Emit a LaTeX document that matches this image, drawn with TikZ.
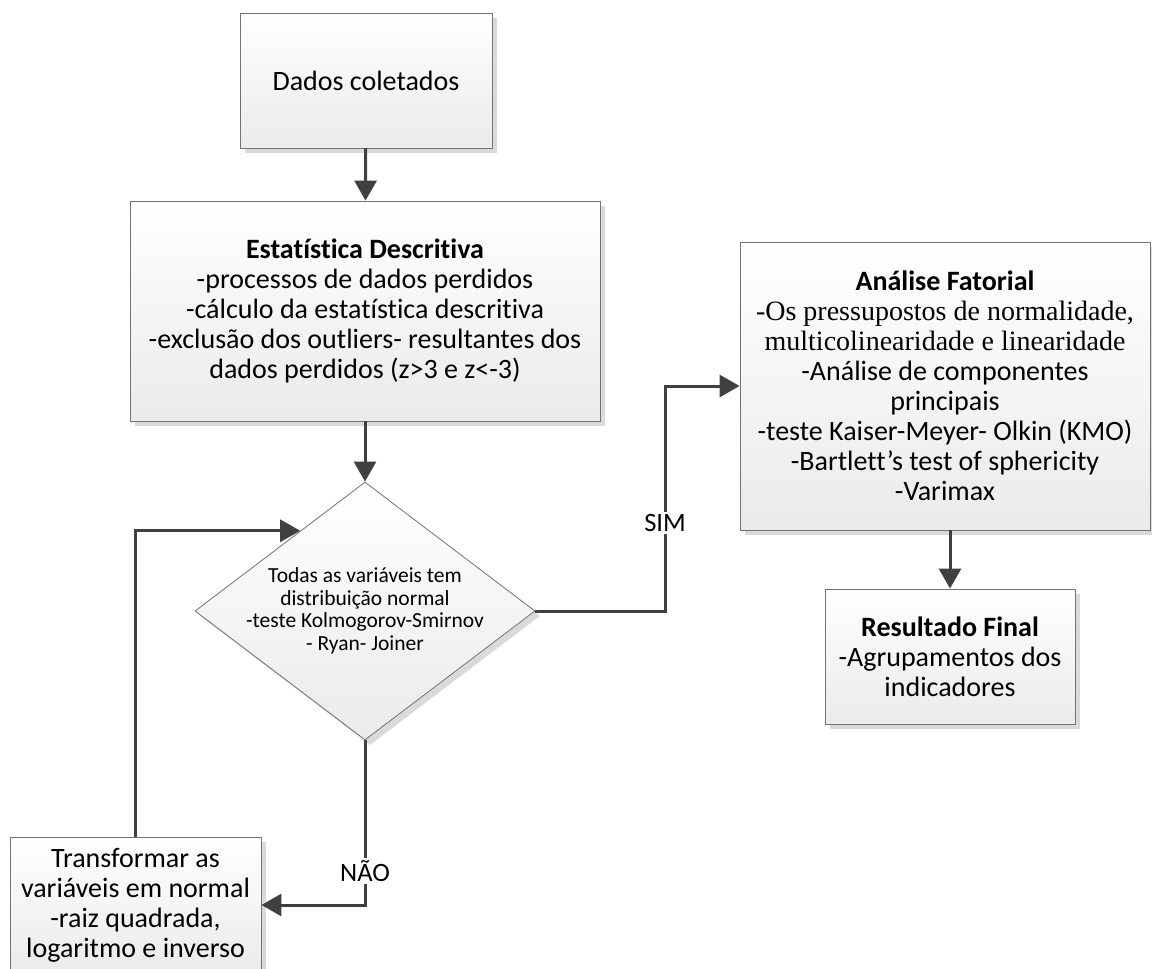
\documentclass[tikz,border=0pt]{standalone}
\usepackage{fontspec}
\setmainfont{Carlito}[Ligatures={NoCommon}]
\newfontfamily\timesf{Liberation Serif}
\usetikzlibrary{arrows.meta,shapes.geometric,shadows,calc}
\definecolor{linegray}{HTML}{404040}
\definecolor{bordergray}{HTML}{737373}
\definecolor{shadowgray}{HTML}{DADADA}
\begin{document}
\begin{tikzpicture}[x=1pt,y=-1pt,
  box/.style={draw=bordergray, line width=0.8pt, top color=white, bottom color=black!8,
    drop shadow={shadow xshift=5pt, shadow yshift=-5pt, fill=shadowgray, opacity=1},
    align=center, inner sep=0pt, font=\fontsize{28}{30}\selectfont},
  dec/.style={shape=diamond, draw=bordergray, line width=0.8pt, top color=white, bottom color=black!8,
    drop shadow={shadow xshift=5pt, shadow yshift=-5pt, fill=shadowgray, opacity=1},
    inner sep=0pt, minimum width=340pt, minimum height=258pt},
  dectxt/.style={align=center, inner sep=0pt, font=\fontsize{21.5}{22.5}\selectfont},
  conn/.style={draw=linegray, line width=3pt, -{Triangle[length=20pt,width=22pt]}},
  lbl/.style={fill=white, inner sep=2pt, font=\fontsize{26.5}{30}\selectfont}]
\useasboundingbox (0,0) rectangle (1152,969);
\fill[white] (0,0) rectangle (1152,969);

\node[box, minimum width=252pt, minimum height=135pt] (b1) at (366,80.5) {Dados coletados};

\node[box, minimum width=470pt, minimum height=220pt] (b2) at (365,311)
  {\textbf{Estatística Descritiva}\\-processos de dados perdidos\\-cálculo da estatística descritiva\\-exclusão dos outliers- resultantes dos\\dados perdidos (z>3 e z<-3)};

\node[dec] (dec) at (365,611) {};
\node[dectxt] (dectext) at (dec.center)
  {Todas as variáveis tem\\distribuição normal\\-teste Kolmogorov-Smirnov\\- Ryan- Joiner};

\node[box, minimum width=410pt, minimum height=288pt] (b3) at (945,386)
  {\textbf{Análise Fatorial}\\{\timesf -Os pressupostos de normalidade,}\\{\timesf multicolinearidade e linearidade}\\-Análise de componentes\\principais\\-teste Kaiser-Meyer- Olkin (KMO)\\-Bartlett’s test of sphericity\\-Varimax};

\node[box, minimum width=250pt, minimum height=135pt] (b4) at (950,656.5)
  {\textbf{Resultado Final}\\-Agrupamentos dos\\indicadores};

\node[box, minimum width=251pt, minimum height=136pt] (b5) at (135.5,905)
  {Transformar as\\variáveis em normal\\-raiz quadrada,\\logaritmo e inverso};

\coordinate (simx) at (665,611);
\coordinate (loopend) at ($(dec.north)!0.38!(dec.west)$);

\draw[conn] (b1) -- (b2);
\draw[conn] (b2) -- (dec);
\draw[conn] (dec.east) -- (simx) |- (b3.west);
\draw[conn] (b3.south -| b4.north) -- (b4.north);
\draw[conn] (dec.south) |- (b5.east);
\draw[conn] (b5.north) |- (loopend);

\node[lbl] (sim) at (665,523) {SIM};
\node[lbl] (nao) at (365,871) {NÃO};
\end{tikzpicture}
\end{document}
